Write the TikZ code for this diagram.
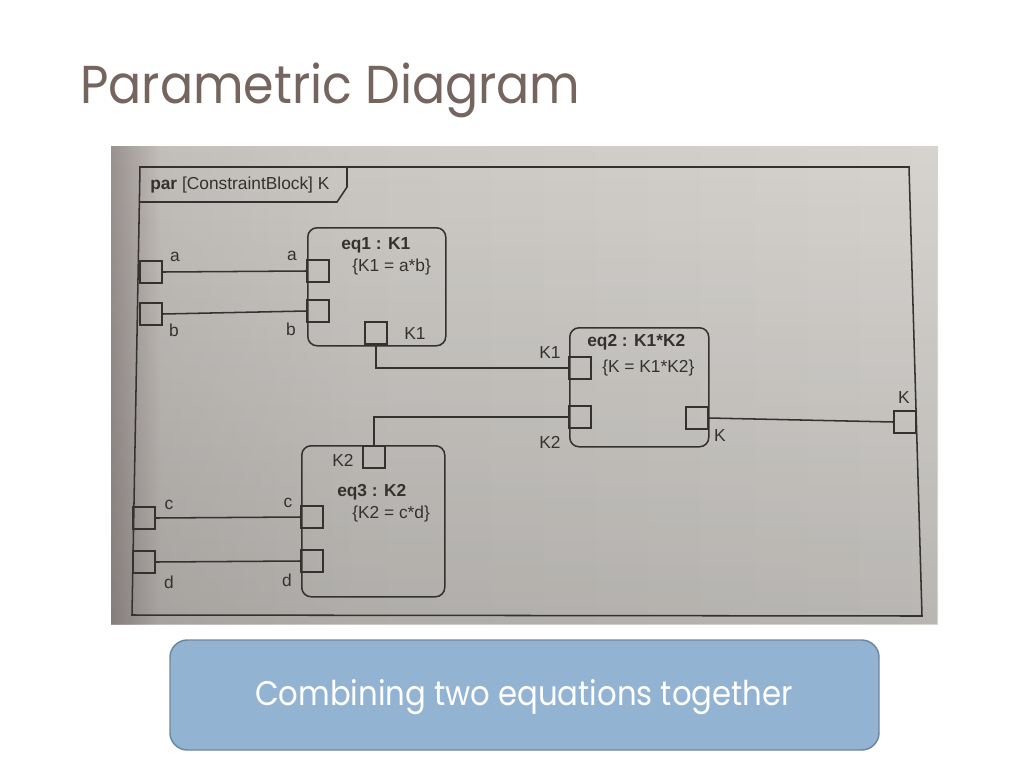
\documentclass[tikz,border=0pt]{standalone}
\usepackage{fontspec}
\usepackage{tikz}
\usetikzlibrary{positioning,calc,fadings}
\setmainfont{Liberation Sans}
\newfontfamily\folienschrift[FakeStretch=0.92]{Poppins}
\newfontfamily\kastenschrift[FakeStretch=0.9]{Poppins}
\definecolor{titelfarbe}{HTML}{75655E}
\definecolor{papier}{HTML}{CCC9C5}
\definecolor{papierhell}{HTML}{D7D4D0}
\definecolor{papierdunkel}{HTML}{9A9290}
\definecolor{tinte}{HTML}{35312F}
\definecolor{kastenblau}{HTML}{93B3D3}
\definecolor{kastenrand}{HTML}{6E87A0}
%Foto wird nach links dunkler
\pgfdeclarehorizontalshading{fotoverlauf}{100bp}{color(0bp)=(papierdunkel); color(25bp)=(papierdunkel);
  color(28bp)=(papier!80!papierdunkel); color(40bp)=(papier); color(75bp)=(papierhell); color(100bp)=(papierhell)}
\tikzset{
  linie/.style={tinte,line width=1.15pt},
  port/.style={draw=tinte,line width=1.15pt,minimum size=16.5pt,inner sep=0pt},
  gleichung/.style={draw=tinte,line width=1.15pt,rounded corners=7pt,inner sep=0pt},
  beschr/.style={text=tinte,inner sep=0pt,font=\fontsize{13}{15}\selectfont},
  fett/.style={beschr,font=\fontsize{13}{15}\selectfont\bfseries,anchor=west},
  formel/.style={beschr,anchor=west}
}
\begin{document}
\begin{tikzpicture}[x=0.75pt,y=-0.75pt]
\useasboundingbox (0,0) rectangle (1024,768);
%Titel der Folie
\node[anchor=base west,inner sep=0pt,text=titelfarbe,font=\folienschrift\fontsize{40}{44}\selectfont] (titel) at (80,103) {Parametric Diagram};
%Foto-Hintergrund
\shade[shading=fotoverlauf] (111,146) rectangle (938,624);
\fill[black,opacity=0.14,path fading=north] (111,146) rectangle (938,624);
%Rahmen (leicht schief wie im Foto)
\draw[linie] (140,167) -- (909,167) -- (922,616) -- (132,615) -- cycle;
\draw[linie] (140,202) -- (337,202) -- (347,187) -- (347,167);
\node[anchor=west,beschr] (rahmentext) at (150,185) {\textbf{par} [ConstraintBlock] K};
%Gleichungsbloecke
\node[gleichung,anchor=north west,minimum width=103.5pt,minimum height=88.5pt] (eq1) at (307,227) {};
\node[gleichung,anchor=north west,minimum width=104.25pt,minimum height=89.25pt] (eq2) at (569,327) {};
\node[gleichung,anchor=north west,minimum width=107.25pt,minimum height=113.25pt] (eq3) at (301,445) {};
\node[fett] (eq1name) at (341,245) {eq1 : K1};
\node[formel] (eq1formel) at (352,267) {\{K1 = a*b\}};
\node[fett] (eq2name) at (587,342) {eq2 : K1*K2};
\node[formel] (eq2formel) at (602,368) {\{K = K1*K2\}};
\node[fett] (eq3name) at (337,492) {eq3 : K2};
\node[formel] (eq3formel) at (352,514) {\{K2 = c*d\}};
%Ports am Rahmen
\node[port] (pa) at (151,272) {};
\node[port] (pb) at (151,314) {};
\node[port] (pc) at (144,518) {};
\node[port] (pd) at (144,562) {};
\node[port] (pK) at (905,422) {};
%Ports an den Bloecken
\node[port] (eq1a) at (318,271) {};
\node[port] (eq1b) at (318,311) {};
\node[port] (eq1K1) at (376,333) {};
\node[port] (eq2K1) at (580,368) {};
\node[port] (eq2K2) at (580,417) {};
\node[port] (eq2K) at (697,418) {};
\node[port] (eq3K2) at (374,457) {};
\node[port] (eq3c) at (312,517) {};
\node[port] (eq3d) at (312,561) {};
%Beschriftungen
\node[beschr] (la) at (175,257) {a};
\node[beschr] (la1) at (292,256) {a};
\node[beschr] (lb) at (174,330) {b};
\node[beschr] (lb1) at (291,329) {b};
\node[beschr] (lK1) at (415,334) {K1};
\node[beschr] (lK1b) at (550,353) {K1};
\node[beschr] (lK2b) at (550,442) {K2};
\node[beschr] (lKb) at (720,436) {K};
\node[beschr] (lK) at (904,398) {K};
\node[beschr] (lK2) at (343,460) {K2};
\node[beschr] (lc) at (169,505) {c};
\node[beschr] (lc1) at (288,503) {c};
\node[beschr] (ld) at (169,582) {d};
\node[beschr] (ld1) at (287,580) {d};
%Verbindungen
\draw[linie] (pa.east) -- (eq1a.west);
\draw[linie] (pb.east) -- (eq1b.west);
\draw[linie] (pc.east) -- (eq3c.west);
\draw[linie] (pd.east) -- (eq3d.west);
\draw[linie] (eq1K1.south) |- (eq2K1.west);
\draw[linie] (eq2K2.west) -| (eq3K2.north);
\draw[linie] (eq2K.east) -- (pK.west);
%Kasten unten
\node[draw=kastenrand,line width=1.1pt,fill=kastenblau,rounded corners=13pt,minimum width=531.75pt,minimum height=82.5pt,inner sep=0pt] (kasten) at (524.5,695) {};
\node[text=white,font=\kastenschrift\fontsize{25.6}{29}\selectfont,inner sep=0pt] (kastentext) at (524,697) {Combining two equations together};
\end{tikzpicture}
\end{document}
